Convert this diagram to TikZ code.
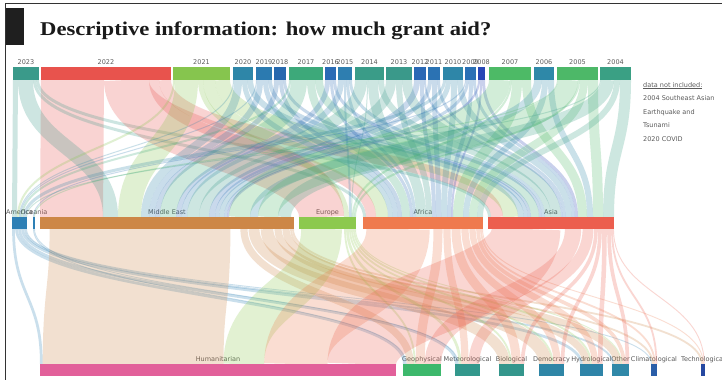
\documentclass[tikz,border=0pt]{standalone}
\usepackage{fontspec}
\setmainfont{Liberation Serif}
\newfontfamily\titlefont[FakeStretch=1.16]{Liberation Serif}
\newfontfamily\labfont{DejaVu Sans}

% year colours
\definecolor{y2023}{HTML}{3A9A8A}
\definecolor{y2022}{HTML}{E8534D}
\definecolor{y2021}{HTML}{86C54E}
\definecolor{y2020}{HTML}{2E86A8}
\definecolor{y2019}{HTML}{2B7AB0}
\definecolor{y2018}{HTML}{2668AE}
\definecolor{y2017}{HTML}{3DA97A}
\definecolor{y2016}{HTML}{2A6BB5}
\definecolor{y2015}{HTML}{2E7EB0}
\definecolor{y2014}{HTML}{3A9C88}
\definecolor{y2013}{HTML}{3A998A}
\definecolor{y2012}{HTML}{2A68B5}
\definecolor{y2011}{HTML}{2B72B3}
\definecolor{y2010}{HTML}{2E86A8}
\definecolor{y2009}{HTML}{2B70B5}
\definecolor{y2008}{HTML}{2846B5}
\definecolor{y2007}{HTML}{4DBA66}
\definecolor{y2006}{HTML}{2E88A8}
\definecolor{y2005}{HTML}{4DB868}
\definecolor{y2004}{HTML}{3AA084}
% region colours
\definecolor{rAm}{HTML}{2E80B5}
\definecolor{rOc}{HTML}{2E80B5}
\definecolor{rME}{HTML}{CD8747}
\definecolor{rEu}{HTML}{8CC94E}
\definecolor{rAf}{HTML}{EF7A4E}
\definecolor{rAs}{HTML}{EC5E4E}
% disaster type colours
\definecolor{tHum}{HTML}{E2609A}
\definecolor{tGeo}{HTML}{3DB86C}
\definecolor{tMet}{HTML}{33988C}
\definecolor{tBio}{HTML}{34968C}
\definecolor{tDem}{HTML}{2F86A6}
\definecolor{tHyd}{HTML}{2F84A8}
\definecolor{tOth}{HTML}{3088A8}
\definecolor{tCli}{HTML}{2A5EA8}
\definecolor{tTec}{HTML}{2648A0}
\definecolor{labgray}{HTML}{5A5A5A}
\definecolor{framegray}{HTML}{333333}

% running offsets inside each bar (out = leaving links, in = arriving links)
\newcommand\sankeyflow[5]{%
  \edef\sfA{\csname cur@out@#1\endcsname}%
  \edef\sfB{\csname cur@in@#2\endcsname}%
  \pgfmathsetmacro\sfW{#3*#4}%
  \pgfmathsetmacro\sfAc{\sfA+#3/2}%
  \pgfmathsetmacro\sfBc{\sfB+\sfW/2}%
  \draw[flow, draw=#1, line width=\sfW pt]
    ([xshift=\sfAc pt]#1.south west) .. controls +(0,#5) and +(0,-#5) ..
    ([xshift=\sfBc pt]#2.north west);%
  \pgfmathsetmacro\sfA{\sfA+#3}\expandafter\xdef\csname cur@out@#1\endcsname{\sfA}%
  \pgfmathsetmacro\sfB{\sfB+\sfW}\expandafter\xdef\csname cur@in@#2\endcsname{\sfB}%
}
\newcommand\upflow[3]{\sankeyflow{#1}{#2}{#3}{1}{68.5}}
\newcommand\lowflow[3]{\sankeyflow{#1}{#2}{#3}{0.904}{68}}

\begin{document}
\begin{tikzpicture}[x=1pt,y=-1pt,
  bar/.style={rectangle, draw=none, inner sep=0pt, outer sep=0pt, anchor=north west},
  lab/.style={font=\labfont\fontsize{6.5}{7}\selectfont, text=labgray, inner sep=0pt, anchor=base},
  note/.style={font=\labfont\fontsize{6.5}{7}\selectfont, text=labgray, inner sep=0pt, anchor=base west},
  flow/.style={draw opacity=0.25}]
\useasboundingbox (0,0) rectangle (722,380);
\fill[white] (0,0) rectangle (722,380);

% ---- bars ----
\foreach \n/\x/\w in {2023/13/26, 2022/41/130, 2021/173/57, 2020/233/20, 2019/256/16,
  2018/274/12, 2017/289/34, 2016/325/11, 2015/338/14, 2014/355/29, 2013/386/26,
  2012/414/12, 2011/428/12, 2010/443/20, 2009/465/11, 2008/478/7, 2007/489/42,
  2006/534/20, 2005/557/41, 2004/600/31}{
  \node[bar, fill=y\n, minimum width=\w pt, minimum height=13pt] (y\n) at (\x,67) {};
  \node[lab] (ly\n) at ([yshift=3pt]y\n.north) {\n};
  \expandafter\xdef\csname cur@out@y\n\endcsname{0}}
\foreach \n/\x/\w/\t in {Am/12/15/America, Oc/33/2/Oceania, ME/40/254/Middle East,
  Eu/299/57/Europe, Af/363/120/Africa, As/488/126/Asia}{
  \node[bar, fill=r\n, minimum width=\w pt, minimum height=12pt] (r\n) at (\x,217) {};
  \node[lab] (lr\n) at ([yshift=3pt]r\n.north) {\t};
  \expandafter\xdef\csname cur@in@r\n\endcsname{0}
  \expandafter\xdef\csname cur@out@r\n\endcsname{0}}
\foreach \n/\x/\w/\t in {Hum/40/356/Humanitarian, Geo/403/38/Geophysical,
  Met/455/25/Meteorological, Bio/499/25/Biological, Dem/539/25/Democracy,
  Hyd/580/23/Hydrological, Oth/612/17/Other, Cli/651/6/Climatological,
  Tec/701/4/Technological}{
  \node[bar, fill=t\n, minimum width=\w pt, minimum height=12pt] (t\n) at (\x,364) {};
  \node[lab] (lt\n) at ([yshift=3pt]t\n.north) {\t};
  \expandafter\xdef\csname cur@in@t\n\endcsname{0}}

% ---- links: year -> region ----
\begin{scope}[on background layer/.style={}]
\foreach \s/\t/\w in {y2023/rAm/5, y2022/rME/63, y2023/rME/15, y2023/rAf/3, y2023/rAs/3,
  y2022/rEu/45, y2022/rAf/10, y2022/rAs/12,
  y2021/rAm/2, y2021/rME/23, y2021/rEu/5, y2021/rAf/12, y2021/rAs/15,
  y2020/rAm/1, y2020/rME/8, y2020/rAf/5, y2020/rAs/6,
  y2019/rAm/1, y2019/rME/6, y2019/rAf/5, y2019/rAs/4,
  y2018/rME/5, y2018/rAf/4, y2018/rAs/3,
  y2017/rAm/2, y2017/rME/16, y2017/rAf/8, y2017/rAs/8,
  y2016/rME/5, y2016/rAf/3, y2016/rAs/3,
  y2015/rME/6, y2015/rEu/2, y2015/rAf/3, y2015/rAs/3,
  y2014/rME/12, y2014/rEu/1, y2014/rAf/10, y2014/rAs/6,
  y2013/rME/10, y2013/rAf/6, y2013/rAs/10,
  y2012/rME/6, y2012/rAf/4, y2012/rAs/2,
  y2011/rME/4, y2011/rAf/5, y2011/rAs/3,
  y2010/rAm/3, y2010/rME/5, y2010/rAf/6, y2010/rAs/6,
  y2009/rOc/1, y2009/rME/3, y2009/rAf/4, y2009/rAs/3,
  y2008/rME/2, y2008/rAf/2, y2008/rAs/3,
  y2007/rME/21, y2007/rEu/2, y2007/rAf/10, y2007/rAs/9,
  y2006/rME/8, y2006/rAf/6, y2006/rAs/6,
  y2005/rOc/1, y2005/rME/20, y2005/rEu/2, y2005/rAf/8, y2005/rAs/10,
  y2004/rAm/1, y2004/rME/13, y2004/rAf/6, y2004/rAs/11}{
  \upflow{\s}{\t}{\w}}

% ---- links: region -> aid type ----
\foreach \s/\t/\w in {rAm/tHum/3, rAm/tGeo/3, rAm/tMet/3, rAm/tHyd/3, rAm/tOth/2, rAm/tCli/1,
  rOc/tGeo/1, rOc/tMet/1,
  rME/tHum/200, rME/tGeo/8, rME/tBio/12, rME/tDem/14, rME/tHyd/8, rME/tOth/8, rME/tCli/2, rME/tTec/2,
  rEu/tHum/45, rEu/tGeo/2, rEu/tMet/3, rEu/tBio/2, rEu/tDem/2, rEu/tHyd/2, rEu/tOth/1,
  rAf/tHum/70, rAf/tGeo/10, rAf/tMet/8, rAf/tBio/10, rAf/tDem/8, rAf/tHyd/7, rAf/tOth/4, rAf/tCli/2, rAf/tTec/1,
  rAs/tHum/76, rAs/tGeo/18, rAs/tMet/12, rAs/tBio/4, rAs/tDem/4, rAs/tHyd/5, rAs/tOth/4, rAs/tCli/2, rAs/tTec/1}{
  \lowflow{\s}{\t}{\w}}
\end{scope}

% ---- bars again on top of the links ----
\foreach \n in {2023,2022,2021,2020,2019,2018,2017,2016,2015,2014,2013,2012,2011,2010,2009,2008,2007,2006,2005,2004}{
  \fill[y\n] (y\n.north west) rectangle (y\n.south east);}
\foreach \n in {Am,Oc,ME,Eu,Af,As}{\fill[r\n] (r\n.north west) rectangle (r\n.south east);}
\foreach \n in {Hum,Geo,Met,Bio,Dem,Hyd,Oth,Cli,Tec}{\fill[t\n] (t\n.north west) rectangle (t\n.south east);}

% ---- slide frame and heading ----
\draw[framegray, line width=1pt] (722,3) -- (5.5,3) -- (5.5,380);
\fill[black!88] (5.5,8) rectangle (24,45);
\node[font=\titlefont\bfseries\fontsize{19.5}{22}\selectfont, anchor=base west, inner sep=0pt, text=black!90]
  (title) at (40,35) {Descriptive information: how much grant aid?};

% ---- side note ----
\node[note] (n1) at (643,87) {\underline{data not included:}};
\node[note] (n2) at (643,100.5) {2004 Southeast Asian};
\node[note] (n3) at (643,114) {Earthquake and};
\node[note] (n4) at (643,127.5) {Tsunami};
\node[note] (n5) at (643,141) {2020 COVID};
\end{tikzpicture}
\end{document}
